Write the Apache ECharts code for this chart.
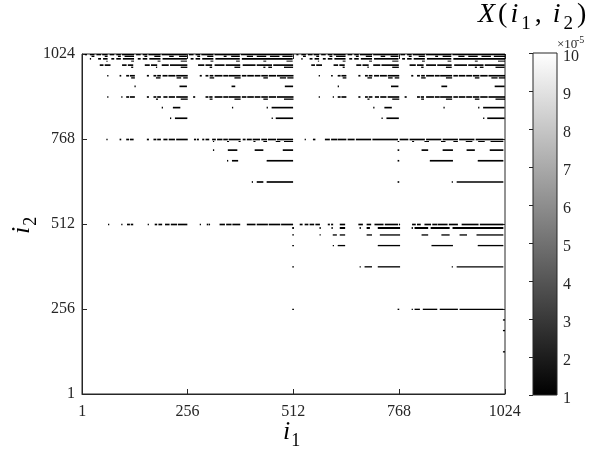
<!DOCTYPE html>
<html>
<head>
<meta charset="utf-8">
<script src="https://cdn.jsdelivr.net/npm/echarts@6/dist/echarts.min.js"></script>
<style>
  html, body { margin: 0; padding: 0; background: #fff; }
  #chart { width: 597px; height: 450px; }
</style>
</head>
<body>
<div id="chart"></div>
<script>
// Axis ticks (index space 1..1024) and colour scale (units of 1e-5)
const indexTicks = [1, 256, 512, 768, 1024];
const colorTicks = [1, 2, 3, 4, 5, 6, 7, 8, 9, 10];
const lowValue = 1;    // black cells
const highValue = 10;  // everything else

// Low-valued runs: [i2 from, i2 to, [[i1 from, i1 to], ...]]
const topBand = [
  [1021, 1024, [[8,12],[20,30],[36,46],[50,62],[68,78],[84,94],[98,126],[132,142],[148,158],[162,190],[194,254],[260,270],[276,286],[290,318],[322,382],[386,510],
                [520,524],[532,542],[548,558],[562,574],[580,590],[596,606],[610,638],[644,654],[660,670],[674,702],[706,766],[772,782],[788,798],[802,830],[834,894],[898,1024]]],
  [1016, 1019, [[24,30],[56,62],[88,94],[104,126],[152,158],[176,190],[212,222],[236,254],[280,286],[304,318],[344,350],[362,382],[400,414],[424,446],[456,478],[486,510],
                [536,542],[568,574],[600,606],[616,638],[664,670],[688,702],[724,734],[748,766],[792,798],[816,830],[856,862],[874,894],[912,926],[936,958],[968,990],[998,1024]]],
  [1008, 1012, [[20,22],[40,46],[52,62],[72,78],[84,94],[100,126],[136,142],[148,158],[164,190],[196,254],[264,270],[276,286],[292,318],[324,382],[388,510],
                [532,534],[552,558],[564,574],[584,590],[596,606],[612,638],[648,654],[660,670],[676,702],[708,766],[776,782],[788,798],[804,830],[836,894],[900,1024]]],
  [1002, 1004, [[60,62],[120,126],[184,190],[240,254],[312,318],[374,382],[440,446],[496,510],
                [572,574],[632,638],[696,702],[752,766],[824,830],[886,894],[952,958],[1008,1024]]]
];

const upperRows = [
  [989, 993, [[44,52],[56,69],[98,108],[112,124],[153,164],[168,182],[194,210],[214,255],[282,296],[300,315],[322,345],[349,383],[390,420],[424,460],[464,511],
              [556,564],[568,581],[610,620],[624,636],[665,676],[680,694],[706,722],[726,767],[794,808],[812,827],[834,857],[861,895],[902,932],[936,972],[976,1023]]],
  [983, 986, [[120,124],[180,182],[240,255],[310,315],[370,383],[440,444],[452,460],[490,511],
              [632,636],[692,694],[752,767],[822,827],[882,895],[952,956],[964,972],[1002,1023]]],
  [957, 961, [[62,64],[92,95],[108,114],[117,128],[158,162],[174,180],[183,191],[196,207],[210,226],[229,256],[286,290],[300,306],[310,318],[322,340],[343,354],[356,384],[388,398],[401,416],[419,432],[435,450],[453,470],[473,512],
              [574,576],[604,607],[620,626],[629,640],[670,674],[686,692],[695,703],[708,719],[722,738],[741,768],[798,802],[812,818],[822,830],[834,852],[855,866],[868,896],[900,910],[913,928],[931,944],[947,962],[965,982],[985,1024]]],
  [951, 954, [[120,128],[180,190],[230,240],[246,256],[310,320],[370,384],[440,450],[480,494],[498,512],
              [632,640],[692,702],[742,752],[758,768],[822,832],[882,896],[952,962],[992,1006],[1010,1024]]],
  [925, 929, [[128,130],[237,254],[363,371],[492,511],[620,622],[749,766],[871,884],[1000,1023]]],
  [893, 897, [[62,64],[96,98],[108,114],[117,128],[158,162],[174,180],[183,191],[198,207],[211,225],[229,256],[270,274],[300,306],[309,316],[322,340],[343,354],[356,384],[388,398],[401,416],[419,432],[435,450],[453,470],[473,512],
              [574,576],[608,610],[620,626],[629,640],[670,674],[686,692],[695,703],[710,719],[723,737],[741,768],[782,786],[812,818],[821,828],[834,852],[855,866],[868,896],[900,910],[913,928],[931,944],[947,962],[965,982],[985,1024]]],
  [887, 890, [[180,184],[240,256],[310,316],[370,384],[440,450],[490,512],
              [692,696],[752,768],[822,828],[882,896],[952,962],[1002,1024]]],
  [861, 865, [[194,196],[221,238],[364,366],[448,450],[460,511],[706,708],[733,750],[876,878],[960,962],[972,1023]]],
  [829, 833, [[214,216],[226,255],[460,462],[470,511],[726,728],[738,767],[972,974],[982,1023]]]
];

const middleRows = [
  [765, 769, [[60,62],[92,95],[108,114],[117,125],[158,162],[174,180],[183,191],[198,207],[211,225],[229,256],[272,276],[279,283],[292,296],[300,308],[316,324],[328,340],[343,353],[356,384],[390,396],[400,411],[414,431],[435,448],[451,470],[473,511],
              [540,542],[560,565],[589,600],[604,618],[620,640],[644,660],[664,700],[704,765],[770,790],[794,830],[834,870],[874,910],[914,950],[954,1020]]],
  [760, 762, [[318,320],[352,356],[380,384],[416,420],[440,448],[470,480],[490,511],
              [765,768],[800,804],[830,840],[870,880],[900,910],[930,945],[960,975],[990,1020]]],
  [733, 737, [[318,320],[354,376],[419,439],[487,511],[765,768],[823,838],[874,898],[932,951],[988,1020]]],
  [701, 705, [[352,354],[364,378],[448,511],[765,768],[843,898],[959,1020]]],
  [637, 641, [[412,414],[424,439],[448,511],[765,768],[896,898],[908,1020]]]
];

const lowerRows = [
  [509, 513, [[64,66],[96,98],[110,116],[119,124],[160,162],[177,182],[186,194],[202,212],[216,230],[233,255],[286,288],[303,306],[308,310],[334,346],[350,362],[365,383],[400,420],[424,450],[453,480],[483,511],
              [528,534],[540,548],[552,562],[566,576],[596,600],[604,608],[625,637],[670,680],[690,700],[709,730],[734,765],[768,770],[800,808],[812,820],[830,845],[849,860],[862,885],[889,910],[920,960],[964,1020]]],
  [498, 503, [[510,513],[576,578],[605,607],[625,637],[673,675],[690,697],[717,770],[799,801],[806,838],[845,890],[898,1020]]],
  [478, 481, [[510,513],[576,578],[608,617],[625,637],[690,702],[722,770],[823,838],[871,890],[915,932],[956,1020]]],
  [446, 449, [[510,513],[608,610],[620,637],[717,770],[847,898],[959,1020]]],
  [382, 385, [[510,513],[673,675],[685,702],[717,770],[896,898],[908,1020]]],
  [254, 257, [[510,513],[765,768],[799,801],[806,818],[826,860],[867,910],[915,1020]]],
  [222, 225, [[1020,1024]]],
  [190, 193, [[1020,1024]]],
  [126, 129, [[1020,1024]]]
];

// Flatten runs into cells: [i1 from, i1 to, i2 from, i2 to, value]
const cells = [];
[topBand, upperRows, middleRows, lowerRows].forEach(group => {
  group.forEach(([r0, r1, spans]) => {
    spans.forEach(([c0, c1]) => cells.push([c0, c1, r0, r1, lowValue]));
  });
});

const serif = "'Liberation Serif', 'DejaVu Serif', serif";
const ink = '#262626';
const plain = v => String(v);

const chart = echarts.init(document.getElementById('chart'), null, { renderer: 'canvas' });

function indexAxis(margin) {
  return {
    type: 'value', min: 0.5, max: 1024.5,
    axisLine: { show: true, lineStyle: { color: ink, width: 1 } },
    axisTick: { show: true, inside: true, length: 5, customValues: indexTicks, lineStyle: { color: ink } },
    axisLabel: { customValues: indexTicks, formatter: plain, fontFamily: serif, fontSize: 16, color: ink, margin: margin },
    splitLine: { show: false }
  };
}

// math-style label pieces: italic symbol, upright subscript dropped below the baseline
function mathRich(main, sub, gap) {
  return {
    v: { fontFamily: serif, fontStyle: 'italic', fontSize: main, fill: '#000', verticalAlign: 'bottom', padding: [0, gap, 5, 0] },
    p: { fontFamily: serif, fontSize: main, fill: '#000', verticalAlign: 'bottom', padding: [0, gap, 5, 0] },
    c: { fontFamily: serif, fontSize: main, fill: '#000', verticalAlign: 'bottom', padding: [0, gap + 8, 5, 0] },
    s: { fontFamily: serif, fontSize: sub, fill: '#000', verticalAlign: 'bottom', padding: [0, gap + 1, 0, 0] }
  };
}

chart.setOption({
  animation: false,
  backgroundColor: '#fff',
  grid: [
    { left: 82, top: 54, width: 423, height: 340, show: true, borderColor: ink, borderWidth: 1, backgroundColor: '#fff' },
    { left: 533, top: 53, width: 24, height: 342, show: false }
  ],
  xAxis: [
    Object.assign({ gridIndex: 0, position: 'bottom' }, indexAxis(10)),
    { gridIndex: 0, position: 'top', type: 'value', min: 0.5, max: 1024.5,
      axisLine: { show: false }, axisLabel: { show: false }, splitLine: { show: false },
      axisTick: { show: true, inside: true, length: 5, customValues: indexTicks, lineStyle: { color: ink } } },
    { gridIndex: 1, type: 'value', min: 0, max: 1, show: false }
  ],
  yAxis: [
    Object.assign({ gridIndex: 0, position: 'left' }, indexAxis(7)),
    { gridIndex: 0, position: 'right', type: 'value', min: 0.5, max: 1024.5,
      axisLine: { show: false }, axisLabel: { show: false }, splitLine: { show: false },
      axisTick: { show: true, inside: true, length: 5, customValues: indexTicks, lineStyle: { color: ink } } },
    { gridIndex: 1, type: 'value', min: 1, max: 10, interval: 1, position: 'right',
      axisLine: { show: false },
      axisTick: { show: true, inside: true, length: 4, customValues: colorTicks, lineStyle: { color: ink } },
      axisLabel: { customValues: colorTicks, fontFamily: serif, fontSize: 16, color: ink, margin: 6,
                   verticalAlign: 'top', padding: [-4, 0, 0, 0] },
      splitLine: { show: false } }
  ],
  visualMap: {
    show: false, type: 'continuous', min: 1, max: 10, dimension: 4, seriesIndex: 0,
    inRange: { color: ['#000000', '#ffffff'] }
  },
  series: [
    {
      type: 'custom',
      xAxisIndex: 0, yAxisIndex: 0,
      encode: { x: [0, 1], y: [2, 3] },
      clip: true,
      data: cells,
      renderItem(params, api) {
        const a = api.coord([api.value(0) - 0.5, api.value(3) + 0.5]);
        const b = api.coord([api.value(1) + 0.5, api.value(2) - 0.5]);
        return {
          type: 'rect',
          shape: { x: a[0], y: a[1], width: b[0] - a[0], height: b[1] - a[1] },
          style: { fill: api.visual('color') }
        };
      }
    },
    {
      // colour bar: one gradient rectangle spanning the value range
      type: 'custom',
      xAxisIndex: 2, yAxisIndex: 2,
      data: [[0, lowValue, highValue]],
      renderItem(params, api) {
        const lo = api.coord([0, api.value(1)]);
        const hi = api.coord([1, api.value(2)]);
        return {
          type: 'rect',
          shape: { x: lo[0], y: hi[1], width: hi[0] - lo[0], height: lo[1] - hi[1] },
          style: {
            fill: new echarts.graphic.LinearGradient(0, 1, 0, 0, [
              { offset: 0, color: '#000000' }, { offset: 1, color: '#ffffff' }
            ]),
            stroke: ink, lineWidth: 1
          }
        };
      }
    }
  ],
  graphic: [
    { type: 'text', left: 283, top: 419,
      style: { text: '{v|i}{s|1}', rich: mathRich(26, 18, 1) } },
    { type: 'text', x: 9, y: 234, rotation: Math.PI / 2,
      style: { text: '{v|i}{s|2}', rich: mathRich(26, 18, 1) } },
    { type: 'text', left: 478, top: 1,
      style: { text: '{v|X}{p|(}{v|i}{s|1}{c|,}{v|i}{s|2}{p|)}', rich: mathRich(28, 19, 3) } },
    // colour-bar multiplier: "×10" with a raised exponent
    { type: 'text', x: 557, y: 38,
      style: { text: '\u00d710', fontFamily: serif, fontSize: 13, fill: ink } },
    { type: 'text', x: 576, y: 35,
      style: { text: '-5', fontFamily: serif, fontSize: 10, fill: ink } }
  ]
});
</script>
</body>
</html>
